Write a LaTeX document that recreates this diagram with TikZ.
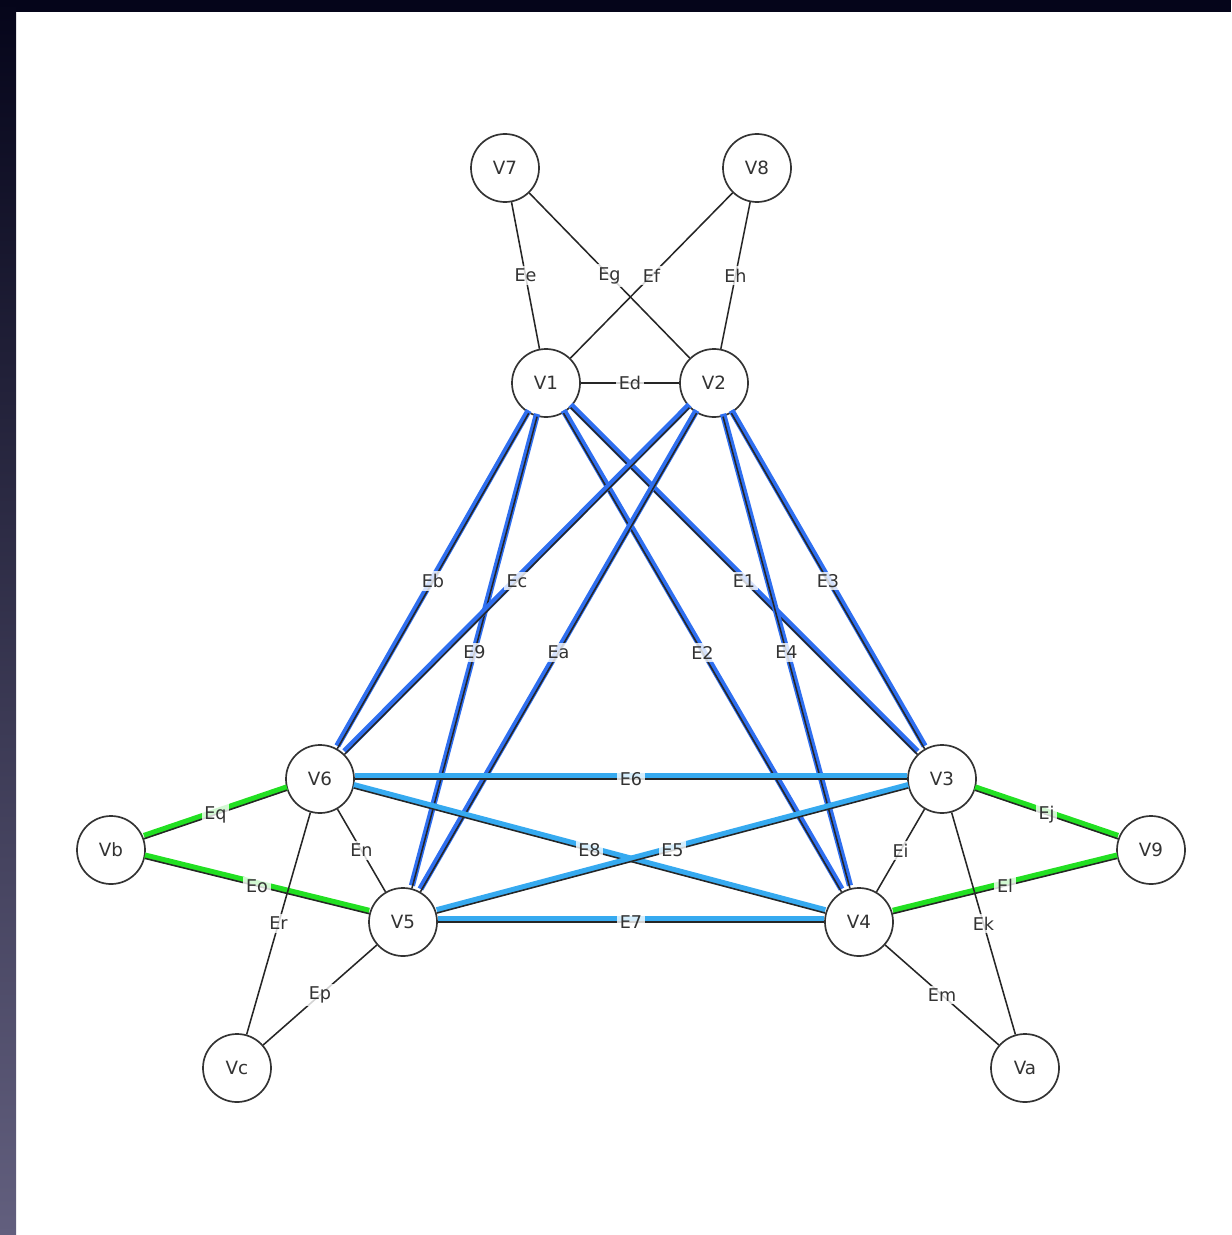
\documentclass[tikz,border=0pt]{standalone}
\usepackage{fontspec}
\setmainfont{DejaVu Sans}
\definecolor{edgeblue}{HTML}{2F6FF0}
\definecolor{edgesky}{HTML}{36AAF0}
\definecolor{edgegreen}{HTML}{22E022}
\definecolor{framedark}{HTML}{05051A}
\definecolor{framegrey}{HTML}{625F7E}

\begin{document}
\begin{tikzpicture}[x=0.025cm, y=-0.025cm,
    vertex/.style={circle, draw=black!80, fill=white, line width=1.2pt, minimum size=1.7cm, inner sep=0pt, text=black!80, font=\fontsize{13}{15}\selectfont},
    elabel/.style={midway, fill=white, fill opacity=0.8, text opacity=1, inner sep=2pt, text=black!80, font=\fontsize{12.5}{14}\selectfont},
    plain/.style={draw=black!85, line width=1.1pt},
    coloured/.style={draw=black!85, line width=1.1pt, preaction={draw=#1, line width=4.4pt, transform canvas={yshift=2pt}}}]

    \useasboundingbox (0, 0) rectangle (1231, 1235);
    \fill[framedark] (0, 0) rectangle (1231, 12);
    \shade[top color=framedark, bottom color=framegrey] (0, 0) rectangle (16, 1235);

    % vertices
    \node[vertex] (v7) at (505, 168) {V7};
    \node[vertex] (v8) at (757, 168) {V8};
    \node[vertex] (v1) at (546, 383) {V1};
    \node[vertex] (v2) at (714, 383) {V2};
    \node[vertex] (v6) at (320, 779) {V6};
    \node[vertex] (v3) at (942, 779) {V3};
    \node[vertex] (vb) at (111, 850) {Vb};
    \node[vertex] (v9) at (1151, 850) {V9};
    \node[vertex] (v5) at (403, 922) {V5};
    \node[vertex] (v4) at (859, 922) {V4};
    \node[vertex] (vc) at (237, 1068) {Vc};
    \node[vertex] (va) at (1025, 1068) {Va};

    % top part
    \draw[plain] (v7) -- (v1) node[elabel] {Ee};
    \draw[plain] (v7) -- (v2) node[elabel] {Eg};
    \draw[plain] (v8) -- (v1) node[elabel] {Ef};
    \draw[plain] (v8) -- (v2) node[elabel] {Eh};
    \draw[plain] (v1) -- (v2) node[elabel] {Ed};

    % blue edges
    \draw[coloured=edgeblue] (v1) -- (v6) node[elabel] {Eb};
    \draw[coloured=edgeblue] (v1) -- (v5) node[elabel] {E9};
    \draw[coloured=edgeblue] (v1) -- (v4) node[elabel] {E2};
    \draw[coloured=edgeblue] (v1) -- (v3) node[elabel] {E1};
    \draw[coloured=edgeblue] (v2) -- (v6) node[elabel] {Ec};
    \draw[coloured=edgeblue] (v2) -- (v5) node[elabel] {Ea};
    \draw[coloured=edgeblue] (v2) -- (v4) node[elabel] {E4};
    \draw[coloured=edgeblue] (v2) -- (v3) node[elabel] {E3};

    \draw[coloured=edgesky] (v6) -- (v3) node[elabel] {E6};
    \draw[coloured=edgesky] (v5) -- (v4) node[elabel] {E7};
    \draw[coloured=edgesky] (v6) -- (v4) node[elabel] {E8};
    \draw[coloured=edgesky] (v5) -- (v3) node[elabel] {E5};

    % sides
    \draw[coloured=edgegreen] (vb) -- (v6) node[elabel] {Eq};
    \draw[coloured=edgegreen] (vb) -- (v5) node[elabel] {Eo};
    \draw[coloured=edgegreen] (v3) -- (v9) node[elabel] {Ej};
    \draw[coloured=edgegreen] (v9) -- (v4) node[elabel] {El};

    \draw[plain] (v6) -- (v5) node[elabel] {En};
    \draw[plain] (v6) -- (vc) node[elabel] {Er};
    \draw[plain] (v5) -- (vc) node[elabel] {Ep};
    \draw[plain] (v3) -- (v4) node[elabel] {Ei};
    \draw[plain] (v3) -- (va) node[elabel] {Ek};
    \draw[plain] (v4) -- (va) node[elabel] {Em};
\end{tikzpicture}
\end{document}
